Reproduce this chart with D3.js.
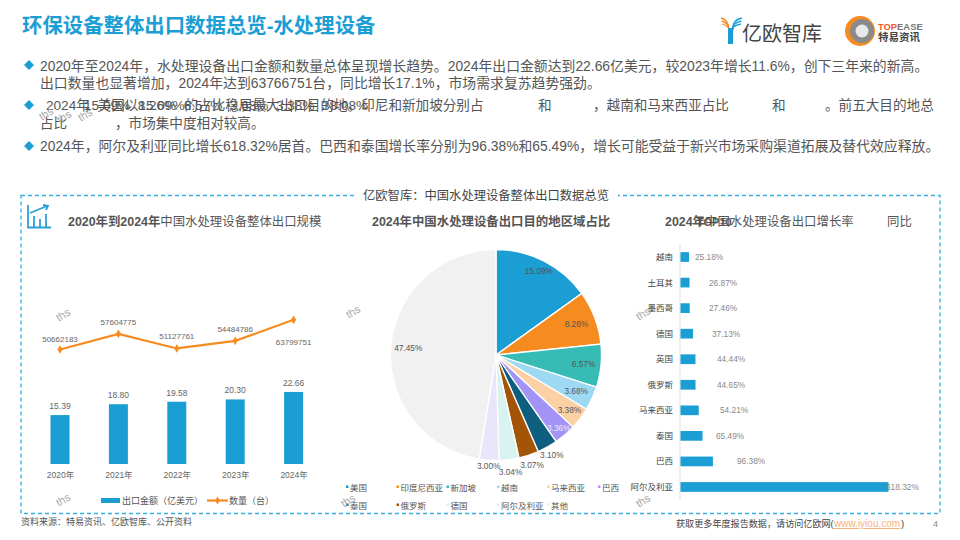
<!DOCTYPE html>
<html><head><meta charset="utf-8">
<script src="https://cdn.jsdelivr.net/npm/d3@7"></script>
<style>html,body{margin:0;background:#fff}svg{display:block}text{font-family:"Liberation Sans","Noto Sans CJK SC",sans-serif}</style>
</head><body><svg id="c" width="960" height="540"></svg>
<script>
const years=["2020年","2021年","2022年","2023年","2024年"];
const amounts=[15.39,18.80,19.58,20.30,22.66];
const quantities=[50662183,57604775,51127761,54484786,63799751];
const shareNames=["美国","印度尼西亚","新加坡","越南","马来西亚","巴西","泰国","俄罗斯","德国","阿尔及利亚","其他"];
const shareValues=[15.09,8.26,6.57,3.68,3.38,3.36,3.10,3.07,3.04,3.00,47.45];
const growthNames=["越南","土耳其","墨西哥","德国","英国","俄罗斯","马来西亚","泰国","巴西","阿尔及利亚"];
const growthValues=[25.18,26.87,27.46,37.13,44.44,44.65,54.21,65.49,96.38,618.32];

// layout and style, kept apart from the data
const shareColors=["#1B9ED4","#F68B1F","#36BCB5","#9ED9F3","#FBD0A5","#A493F7","#0E5F7F","#A35407","#D9F3F0","#E9E5FB","#F1F1F1"];
const shareLabelR=[94,86,88,88,92,96,114.5,116,118,111.5,88];
const growthLabelX=[695,709,709,712,717,717,720,716,737,886];
const lineLabelDy=[-8,-9,-9,-9,25];
const wm=[[48,117],[66,120],[87,118],[65,318],[65,503],[355,315],[350,504],[645,317],[645,504]];
const BLUE="#1B9ED4",ORANGE="#F68B1F";

const svg=d3.select("#c");
function T(x,y,s,size,fill,o={}){
  const t=svg.append("text").attr("x",x).attr("y",y).attr("font-size",size).attr("fill",fill).text(s);
  if(o.w)t.attr("font-weight",o.w);
  if(o.a)t.attr("text-anchor",o.a);
  if(o.t)t.attr("transform",o.t);
  if(o.space)t.style("white-space","pre");
  return t;
}
// header
T(22,33,"环保设备整体出口数据总览-水处理设备",20.4,BLUE,{w:"bold"});
const bul=[65,105,146];
svg.selectAll(".bul").data(bul).join("path").attr("d",d3.symbol(d3.symbolSquare,50)).attr("fill",BLUE).attr("transform",d=>`translate(29,${d}) rotate(45)`);
const BC="#555",FS=13.6,FL=13.85;
T(40,71,"2020年至2024年，水处理设备出口金额和数量总体呈现增长趋势。2024年出口金额达到22.66亿美元，较2023年增长11.6%，创下三年来的新高。",FL,BC);
T(40,88,"出口数量也显著增加，2024年达到63766751台，同比增长17.1%，市场需求复苏趋势强劲。",FL,BC);
T(46,110,"2024年",FS,BC);
T(84,110,"15.09%  8.26%  6.57%  3.68%  3.38%  38.08%",FS,BC,{space:1});
T(84,110,"，美国以15.09%的占比稳居最大出口目的地。印尼和新加坡分别占",FS,BC);
T(538,110,"和",FS,BC);T(593,110,"，越南和马来西亚占比",FS,BC);T(772,110,"和",FS,BC);T(825,110,"。前五大目的地总",FS,BC);
T(40,128,"占比",FS,BC);T(115,128,"，市场集中度相对较高。",FS,BC);
T(40,151,"2024年，阿尔及利亚同比增长618.32%居首。巴西和泰国增长率分别为96.38%和65.49%，增长可能受益于新兴市场采购渠道拓展及替代效应释放。",FL,BC);

// logos
const ly=svg.append("g").attr("fill","none");
[0,3,6].forEach(o=>ly.append("path").attr("d",`M${721+o*0.2} ${18+o}Q${729} ${20+o} ${729} ${30}`).attr("stroke",ORANGE).attr("stroke-width",1.3));
[0,3,6].forEach(o=>ly.append("path").attr("d",`M${742-o*0.2} ${18+o}Q${732} ${20+o} ${732-o*0.2+1} ${30}`).attr("stroke",BLUE).attr("stroke-width",1.3));
svg.append("rect").attr("x",728).attr("y",28).attr("width",5).attr("height",16).attr("fill",BLUE);
T(742,41,"亿欧智库",20,"#444");
svg.append("circle").attr("cx",860).attr("cy",31).attr("r",15).attr("fill",ORANGE);
svg.append("circle").attr("cx",862).attr("cy",31).attr("r",12).attr("fill","#8a8a8a");
svg.append("circle").attr("cx",862).attr("cy",31).attr("r",6.5).attr("fill","#e9e9e9");
const te=T(878,30,"",9.4,"#F05A28",{w:"bold"});
te.append("tspan").text("TOP");te.append("tspan").attr("fill","#777").text("EASE");
T(878,41,"特易资讯",10.5,"#444",{w:"bold"});

// dashed frame
svg.append("rect").attr("x",21).attr("y",195.5).attr("width",919).attr("height",318).attr("fill","none").attr("stroke","#35AEE2").attr("stroke-width",1.3).attr("stroke-dasharray","4 3");
svg.append("rect").attr("x",356).attr("y",187).attr("width",262).attr("height",16).attr("fill","#fff");
T(486,200,"亿欧智库：中国水处理设备整体出口数据总览",12.3,"#444",{a:"middle"});

// icon
const ic=svg.append("g").attr("stroke","#2C9FD8").attr("fill","none").attr("stroke-width",1.8);
ic.append("path").attr("d","M28 205V227.5H51");
ic.append("path").attr("d","M34 227V216M40 227V219M46 227V214");
ic.append("path").attr("d","M30 213L47 206M43 205L48 206L46 210");

// left chart
const lt=T(68,226,"",12.4,"#555");
lt.append("tspan").attr("font-weight","bold").text("2020年到2024年");
lt.append("tspan").text("中国水处理设备整体出口规模");
const x=d3.scalePoint().domain(years).range([60,293.6]);
const yA=d3.scaleLinear().domain([0,70]).range([464,241.4]);
const yQ=d3.scaleLinear().domain([0,1e8]).range([464,238]);
svg.selectAll(".bar").data(amounts).join("rect").attr("x",(d,i)=>x(years[i])-9.5).attr("width",19).attr("y",d=>yA(d)).attr("height",d=>yA(0)-yA(d)).attr("fill",BLUE);
svg.selectAll(".barL").data(amounts).join("text").attr("x",(d,i)=>x(years[i])).attr("y",d=>yA(d)-6).attr("text-anchor","middle").attr("font-size",8.5).attr("fill","#666").text(d=>d.toFixed(2));
const xAxis=svg.append("g").attr("transform","translate(0,464)").call(d3.axisBottom(x).tickSize(0).tickPadding(8));
xAxis.select(".domain").remove();
xAxis.selectAll("text").attr("font-size",8.5).attr("fill","#666").style("font-family",'"Liberation Sans","Noto Sans CJK SC"');
svg.append("path").datum(quantities).attr("fill","none").attr("stroke",ORANGE).attr("stroke-width",2.2).attr("d",d3.line().x((d,i)=>x(years[i])).y(d=>yQ(d)));
svg.selectAll(".pt").data(quantities).join("path").attr("d",d3.symbol(d3.symbolDiamond,22)).attr("fill",ORANGE).attr("transform",(d,i)=>`translate(${x(years[i])},${yQ(d)})`);
svg.selectAll(".ql").data(quantities).join("text").attr("x",(d,i)=>x(years[i])).attr("y",(d,i)=>yQ(d)+lineLabelDy[i]).attr("text-anchor","middle").attr("font-size",8).attr("fill","#666").text(d=>d);
svg.append("rect").attr("x",101).attr("y",498).attr("width",19).attr("height",5).attr("fill",BLUE);
T(122,504,"出口金额（亿美元）",9,"#555");
svg.append("line").attr("x1",207).attr("x2",228).attr("y1",500.5).attr("y2",500.5).attr("stroke",ORANGE).attr("stroke-width",2.2);
svg.append("path").attr("d",d3.symbol(d3.symbolDiamond,18)).attr("fill",ORANGE).attr("transform","translate(217.5,500.5)");
T(229,504,"数量（台）",9,"#555");

// pie
const mt=T(372,226,"",12.4,"#555");
mt.append("tspan").attr("font-weight","bold").text("2024年中国水处理设备出口目的地区域占比");
const pie=d3.pie().sort(null).value(d=>d)(shareValues);
const arc=d3.arc().innerRadius(0).outerRadius(105.5);
const pg=svg.append("g").attr("transform","translate(496,355)");
pg.selectAll("path").data(pie).join("path").attr("d",arc).attr("fill",(d,i)=>shareColors[i]).attr("stroke","#fff").attr("stroke-width",1.3);
pg.selectAll("text").data(pie).join("text").attr("text-anchor","middle").attr("dy",3).attr("font-size",8.3)
 .attr("fill",(d,i)=>i===5?"#eee":"#555")
 .attr("transform",(d,i)=>{const a=(d.startAngle+d.endAngle)/2,r=shareLabelR[i];return `translate(${Math.sin(a)*r},${-Math.cos(a)*r})`;})
 .text(d=>d.value.toFixed(2)+"%");
const lgX=d3.scaleOrdinal().domain(d3.range(7)).range([346,396.5,446.5,497,547,598,646]);
shareNames.forEach((n,i)=>{
  const row=i<6?0:1,col=i<6?i:i-6,lx=lgX(col),ly2=row?505:487;
  svg.append("rect").attr("x",lx).attr("y",ly2-1.5).attr("width",2.5).attr("height",2.5).attr("fill",shareColors[i]);
  T(lx+4,ly2+3.5,n,8.5,"#555");
});

// growth chart
T(665,226,"2024年",12.4,"#555",{w:"bold"});
T(697,226,"TOP10",11,"#555",{w:"bold"});
T(705,226,"中国水处理设备出口增长率",12.4,"#555");
T(887,226,"同比",12.4,"#555");
const yB=d3.scaleBand().domain(growthNames).range([244,500]).paddingInner(.62).paddingOuter(.32);
const xB=d3.scaleLinear().domain([0,618.32]).range([680.5,888.5]);
svg.append("line").attr("x1",680).attr("x2",680).attr("y1",244).attr("y2",500).attr("stroke","#ddd").attr("stroke-width",1);
svg.selectAll(".gb").data(growthValues).join("rect").attr("x",xB(0)).attr("y",(d,i)=>yB(growthNames[i])).attr("width",d=>xB(d)-xB(0)).attr("height",yB.bandwidth()).attr("fill",BLUE);
svg.selectAll(".gl").data(growthValues).join("text").attr("x",(d,i)=>growthLabelX[i]).attr("y",(d,i)=>yB(growthNames[i])+yB.bandwidth()/2+3).attr("font-size",8.3).attr("fill","#888").text(d=>d.toFixed(2)+"%");
svg.selectAll(".gn").data(growthNames).join("text").attr("x",673).attr("y",d=>yB(d)+yB.bandwidth()/2+3).attr("text-anchor","end").attr("font-size",8.5).attr("fill","#444").text(d=>d);

// watermarks
wm.forEach(([a,b])=>T(a,b,"ths",11,"#aaa",{a:"middle",t:`rotate(-30 ${a} ${b})`}));

// footer
T(21,525,"资料来源：特易资讯、亿欧智库、公开资料",9,"#555");
T(676,527,"获取更多年度报告数据，请访问亿欧网(",9.1,"#444");
T(834,527,"www.iyiou.com",10,"#F7B27A").attr("text-decoration","underline");
T(901,527,")",9.5,"#444");
T(933,527,"4",9,"#888");
</script></body></html>
